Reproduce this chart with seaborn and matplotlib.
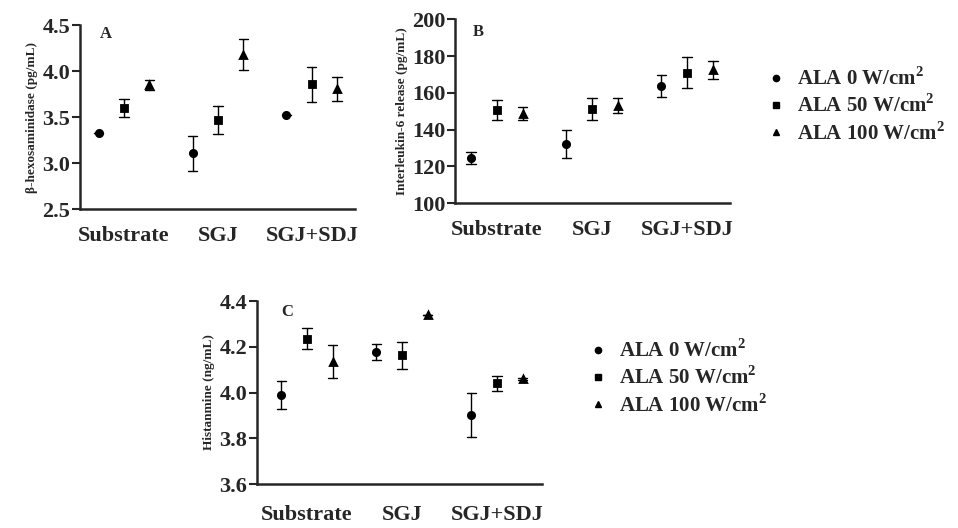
import numpy as np
import pandas as pd
import seaborn as sns
import matplotlib.pyplot as plt

# ---- Data ----
groups = ["Substrate", "SGJ", "SGJ+SDJ"]
doses = [r"ALA 0 W/cm$^{\mathbf{2}}$", r"ALA 50 W/cm$^{\mathbf{2}}$", r"ALA 100 W/cm$^{\mathbf{2}}$"]

# values in group order: (Substrate: 0, 50, 100), (SGJ: ...), (SGJ+SDJ: ...)
hexo_mean = [3.33, 3.60, 3.85, 3.11, 3.47, 4.18, 3.52, 3.86, 3.81]
hexo_err = [0.0, 0.10, 0.05, 0.19, 0.15, 0.17, 0.0, 0.19, 0.13]

il6_mean = [124.5, 150.5, 148.5, 132.0, 151.0, 153.0, 163.5, 171.0, 172.5]
il6_err = [3.0, 5.5, 3.5, 7.5, 6.0, 4.0, 6.0, 8.5, 5.0]

hist_mean = [3.99, 4.235, 4.135, 4.175, 4.163, 4.34, 3.90, 4.04, 4.06]
hist_err = [0.06, 0.045, 0.073, 0.035, 0.06, 0.0, 0.096, 0.033, 0.005]


def long_table(mean, err):
    # three rows per point (low, mean, high) so that min-max interval = mean +/- err
    rows = []
    for i, (m, e) in enumerate(zip(mean, err)):
        g = groups[i // 3]
        d = doses[i % 3]
        for v in (m - e, m, m + e):
            rows.append({"group": g, "dose": d, "value": v})
    return pd.DataFrame(rows)


# ---- Style ----
sns.set_style("ticks")
plt.rcParams["font.family"] = ["Liberation Serif", "DejaVu Serif"]
plt.rcParams["font.weight"] = "bold"
plt.rcParams["mathtext.fontset"] = "custom"
plt.rcParams["mathtext.rm"] = "Liberation Serif:bold"
plt.rcParams["mathtext.bf"] = "Liberation Serif:bold"

fig = plt.figure(figsize=(9.58, 5.28), dpi=100)

panels = [
    # data, rect, ylim, yticks, ylabel, letter, xlim, fmt, letter pos, xtick pad
    (long_table(hexo_mean, hexo_err), [0.0835, 0.604, 0.287, 0.348], (2.5, 4.5),
     [2.5, 3.0, 3.5, 4.0, 4.5], "β-hexosaminidase (pg/mL)", "A", (-0.47, 2.46), "{:.1f}",
     (0.072, 0.955), 12),
    (long_table(il6_mean, il6_err), [0.475, 0.6155, 0.287, 0.348], (100, 200),
     [100, 120, 140, 160, 180, 200], "Interleukin-6 release (pg/mL)", "B", (-0.44, 2.45), "{:.0f}",
     (0.065, 0.93), 12),
    (long_table(hist_mean, hist_err), [0.268, 0.0833, 0.2975, 0.3466], (3.6, 4.4),
     [3.6, 3.8, 4.0, 4.2, 4.4], "Histanmine (ng/mL)", "C", (-0.53, 2.47), "{:.1f}",
     (0.085, 0.94), 15),
]

pal = {d: "black" for d in doses}

for df, rect, ylim, yticks, ylabel, letter, xlim, fmt, lpos, xpad in panels:
    ax = fig.add_axes(rect)
    sns.pointplot(data=df, x="group", y="value", hue="dose", order=groups, hue_order=doses,
                  markers=["o", "s", "^"], linestyle="none", dodge=0.54,
                  errorbar=("pi", 100), capsize=0.1, palette=pal, markersize=4.5,
                  err_kws={"linewidth": 1.0}, legend=False, ax=ax)
    ax.set_xlim(*xlim)
    ax.set_ylim(*ylim)
    ax.set_yticks(yticks)
    ax.set_yticklabels([fmt.format(t) for t in yticks], fontsize=16, fontweight="bold")
    ax.set_xticks(range(len(groups)))
    ax.set_xticklabels(groups, fontsize=16, fontweight="bold")
    ax.tick_params(axis="x", length=0, pad=xpad)
    ax.tick_params(axis="y", length=6, width=1.5, pad=1)
    ax.set_xlabel("")
    ax.set_ylabel(ylabel, fontsize=9.5, fontweight="bold", labelpad=3)
    for s in ["left", "bottom"]:
        ax.spines[s].set_linewidth(1.8)
    sns.despine(ax=ax)
    ax.text(lpos[0], lpos[1], letter, transform=ax.transAxes, fontsize=12, fontweight="bold",
            va="center", ha="left")

# ---- Legends ----
handles = [
    plt.Line2D([], [], marker="o", color="black", linestyle="none", markersize=4.5),
    plt.Line2D([], [], marker="s", color="black", linestyle="none", markersize=4.5),
    plt.Line2D([], [], marker="^", color="black", linestyle="none", markersize=4.5),
]
for anchor in [(0.793, 0.888), (0.607, 0.373)]:
    fig.legend(handles, doses, loc="upper left", bbox_to_anchor=anchor, frameon=False,
               prop={"size": 15, "weight": "bold"}, handlelength=0.8, handletextpad=0.6,
               labelspacing=0.22, borderaxespad=0)

fig.savefig("out.png", dpi=100)
